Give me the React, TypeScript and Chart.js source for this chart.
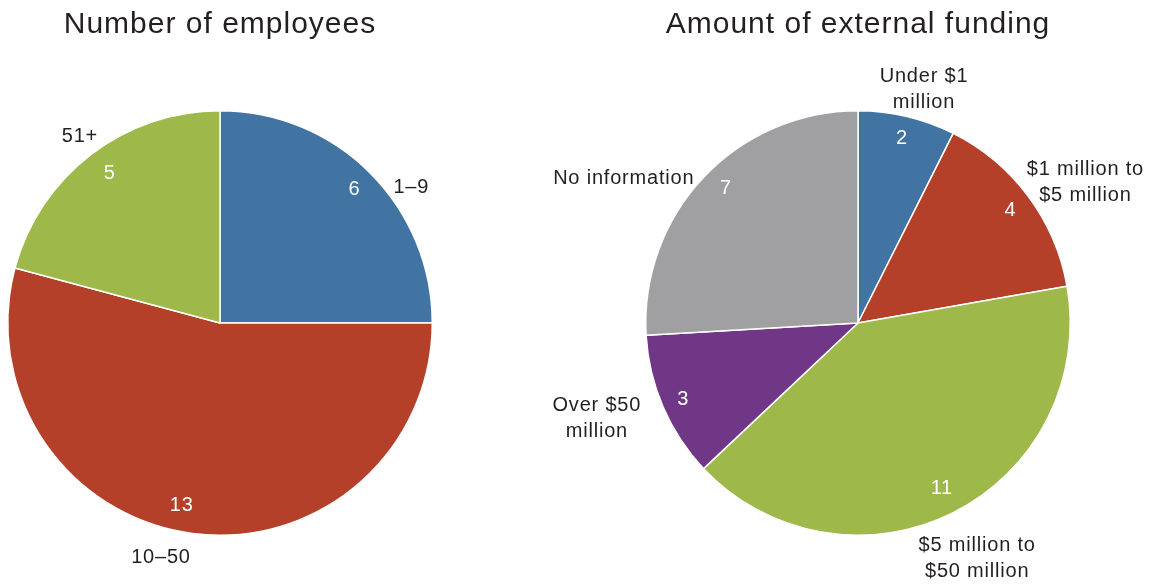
import React, { useEffect, useRef } from 'react';
import { Chart, registerables } from 'chart.js';

Chart.register(...registerables);

const FONT = '"Liberation Sans", Arial, Helvetica, sans-serif';
const TEXT_COLOR = '#231f20';

// ---- Data ----
const employeeTitle = 'Number of employees';
const employeeCategories = ['1–9', '10–50', '51+'];
const employeeValues = [6, 13, 5];
const employeeColors = ['#4174a3', '#b44029', '#9eb84a'];

const fundingTitle = 'Amount of external funding';
const fundingCategories = [
  'Under $1\nmillion',
  '$1 million to\n$5 million',
  '$5 million to\n$50 million',
  'Over $50\nmillion',
  'No information',
];
const fundingValues = [2, 4, 11, 3, 7];
const fundingColors = ['#4174a3', '#b44029', '#9eb84a', '#713787', '#a0a0a2'];

// ---- Label layout (angle nudge in degrees, distance as fraction of radius) ----
const employeeNameNudge = [9.5, 6.7, 0.7];
const employeeNameDist = [1.107, 1.134, 1.102];
const employeeValueNudge = [0, 4.4, 1.3];
const employeeValueDist = [0.896, 0.873, 0.879];

const fundingNameNudge = [2.4, 4.7, -0.3, 3.5, -11.5];
const fundingNameDist = [1.147, 1.263, 1.238, 1.308, 1.299];
const fundingValueNudge = [0, 0, -0.4, 0.1, 2.4];
const fundingValueDist = [0.899, 0.896, 0.868, 0.896, 0.892];

type LabelLayout = {
  nameNudge: number[];
  nameDist: number[];
  valueNudge: number[];
  valueDist: number[];
};

function makeLabelPlugin(title: string, layout: LabelLayout) {
  return {
    id: 'pieLabels',
    afterDraw(chart: any) {
      const ctx: CanvasRenderingContext2D = chart.ctx;
      const arcs = chart.getDatasetMeta(0).data;
      const labels: string[] = chart.data.labels;
      const values: number[] = chart.data.datasets[0].data;
      if (!arcs.length) return;
      const cx = arcs[0].x;
      const cy = arcs[0].y;
      ctx.save();
      // Title
      ctx.font = `30px ${FONT}`;
      (ctx as any).letterSpacing = '1px';
      ctx.fillStyle = TEXT_COLOR;
      ctx.textAlign = 'center';
      ctx.textBaseline = 'alphabetic';
      ctx.fillText(title, cx, 33);

      ctx.font = `20px ${FONT}`;
      (ctx as any).letterSpacing = '0.8px';
      ctx.textBaseline = 'middle';
      const lineH = 26;
      arcs.forEach((arc: any, i: number) => {
        const mid = (arc.startAngle + arc.endAngle) / 2;
        const r = arc.outerRadius;
        // value label
        const va = mid + (layout.valueNudge[i] * Math.PI) / 180;
        const vr = r * layout.valueDist[i];
        ctx.fillStyle = '#ffffff';
        ctx.fillText(String(values[i]), cx + Math.cos(va) * vr, cy + Math.sin(va) * vr + 1);
        // category label
        const na = mid + (layout.nameNudge[i] * Math.PI) / 180;
        const nr = r * layout.nameDist[i];
        const lx = cx + Math.cos(na) * nr;
        const ly = cy + Math.sin(na) * nr;
        const lines = String(labels[i]).split('\n');
        ctx.fillStyle = TEXT_COLOR;
        lines.forEach((line, j) => {
          const y = ly + (j - (lines.length - 1) / 2) * lineH + 1;
          ctx.fillText(line, lx, y);
        });
      });
      ctx.restore();
    },
  };
}

type PieProps = {
  left: number;
  width: number;
  height: number;
  padding: { left: number; right: number; top: number; bottom: number };
  title: string;
  categories: string[];
  values: number[];
  colors: string[];
  layout: LabelLayout;
};

function PieChart({ left, width, height, padding, title, categories, values, colors, layout }: PieProps) {
  const ref = useRef<HTMLCanvasElement>(null);
  useEffect(() => {
    if (!ref.current) return;
    const chart = new Chart(ref.current, {
      type: 'pie',
      data: {
        labels: categories,
        datasets: [
          {
            data: values,
            backgroundColor: colors,
            borderColor: '#ffffff',
            borderWidth: 1.5,
          },
        ],
      },
      options: {
        responsive: false,
        animation: false,
        layout: { padding },
        plugins: {
          legend: { display: false },
          tooltip: { enabled: false },
          title: { display: false },
        },
      },
      plugins: [makeLabelPlugin(title, layout)],
    } as any);
    return () => chart.destroy();
  }, []);
  return (
    <canvas
      ref={ref}
      width={width}
      height={height}
      style={{ position: 'absolute', left, top: 0, display: 'block', width, height }}
    />
  );
}

export default function App() {
  return (
    <div
      style={{
        position: 'fixed',
        left: 0,
        top: 0,
        width: 1151,
        height: 584,
        background: '#ffffff',
      }}
    >
      <PieChart
        left={0}
        width={520}
        height={584}
        padding={{ left: 7, top: 110, right: 87, bottom: 48 }}
        title={employeeTitle}
        categories={employeeCategories}
        values={employeeValues}
        colors={employeeColors}
        layout={{
          nameNudge: employeeNameNudge,
          nameDist: employeeNameDist,
          valueNudge: employeeValueNudge,
          valueDist: employeeValueDist,
        }}
      />
      <PieChart
        left={520}
        width={631}
        height={584}
        padding={{ left: 125, top: 110, right: 80, bottom: 48 }}
        title={fundingTitle}
        categories={fundingCategories}
        values={fundingValues}
        colors={fundingColors}
        layout={{
          nameNudge: fundingNameNudge,
          nameDist: fundingNameDist,
          valueNudge: fundingValueNudge,
          valueDist: fundingValueDist,
        }}
      />
    </div>
  );
}
